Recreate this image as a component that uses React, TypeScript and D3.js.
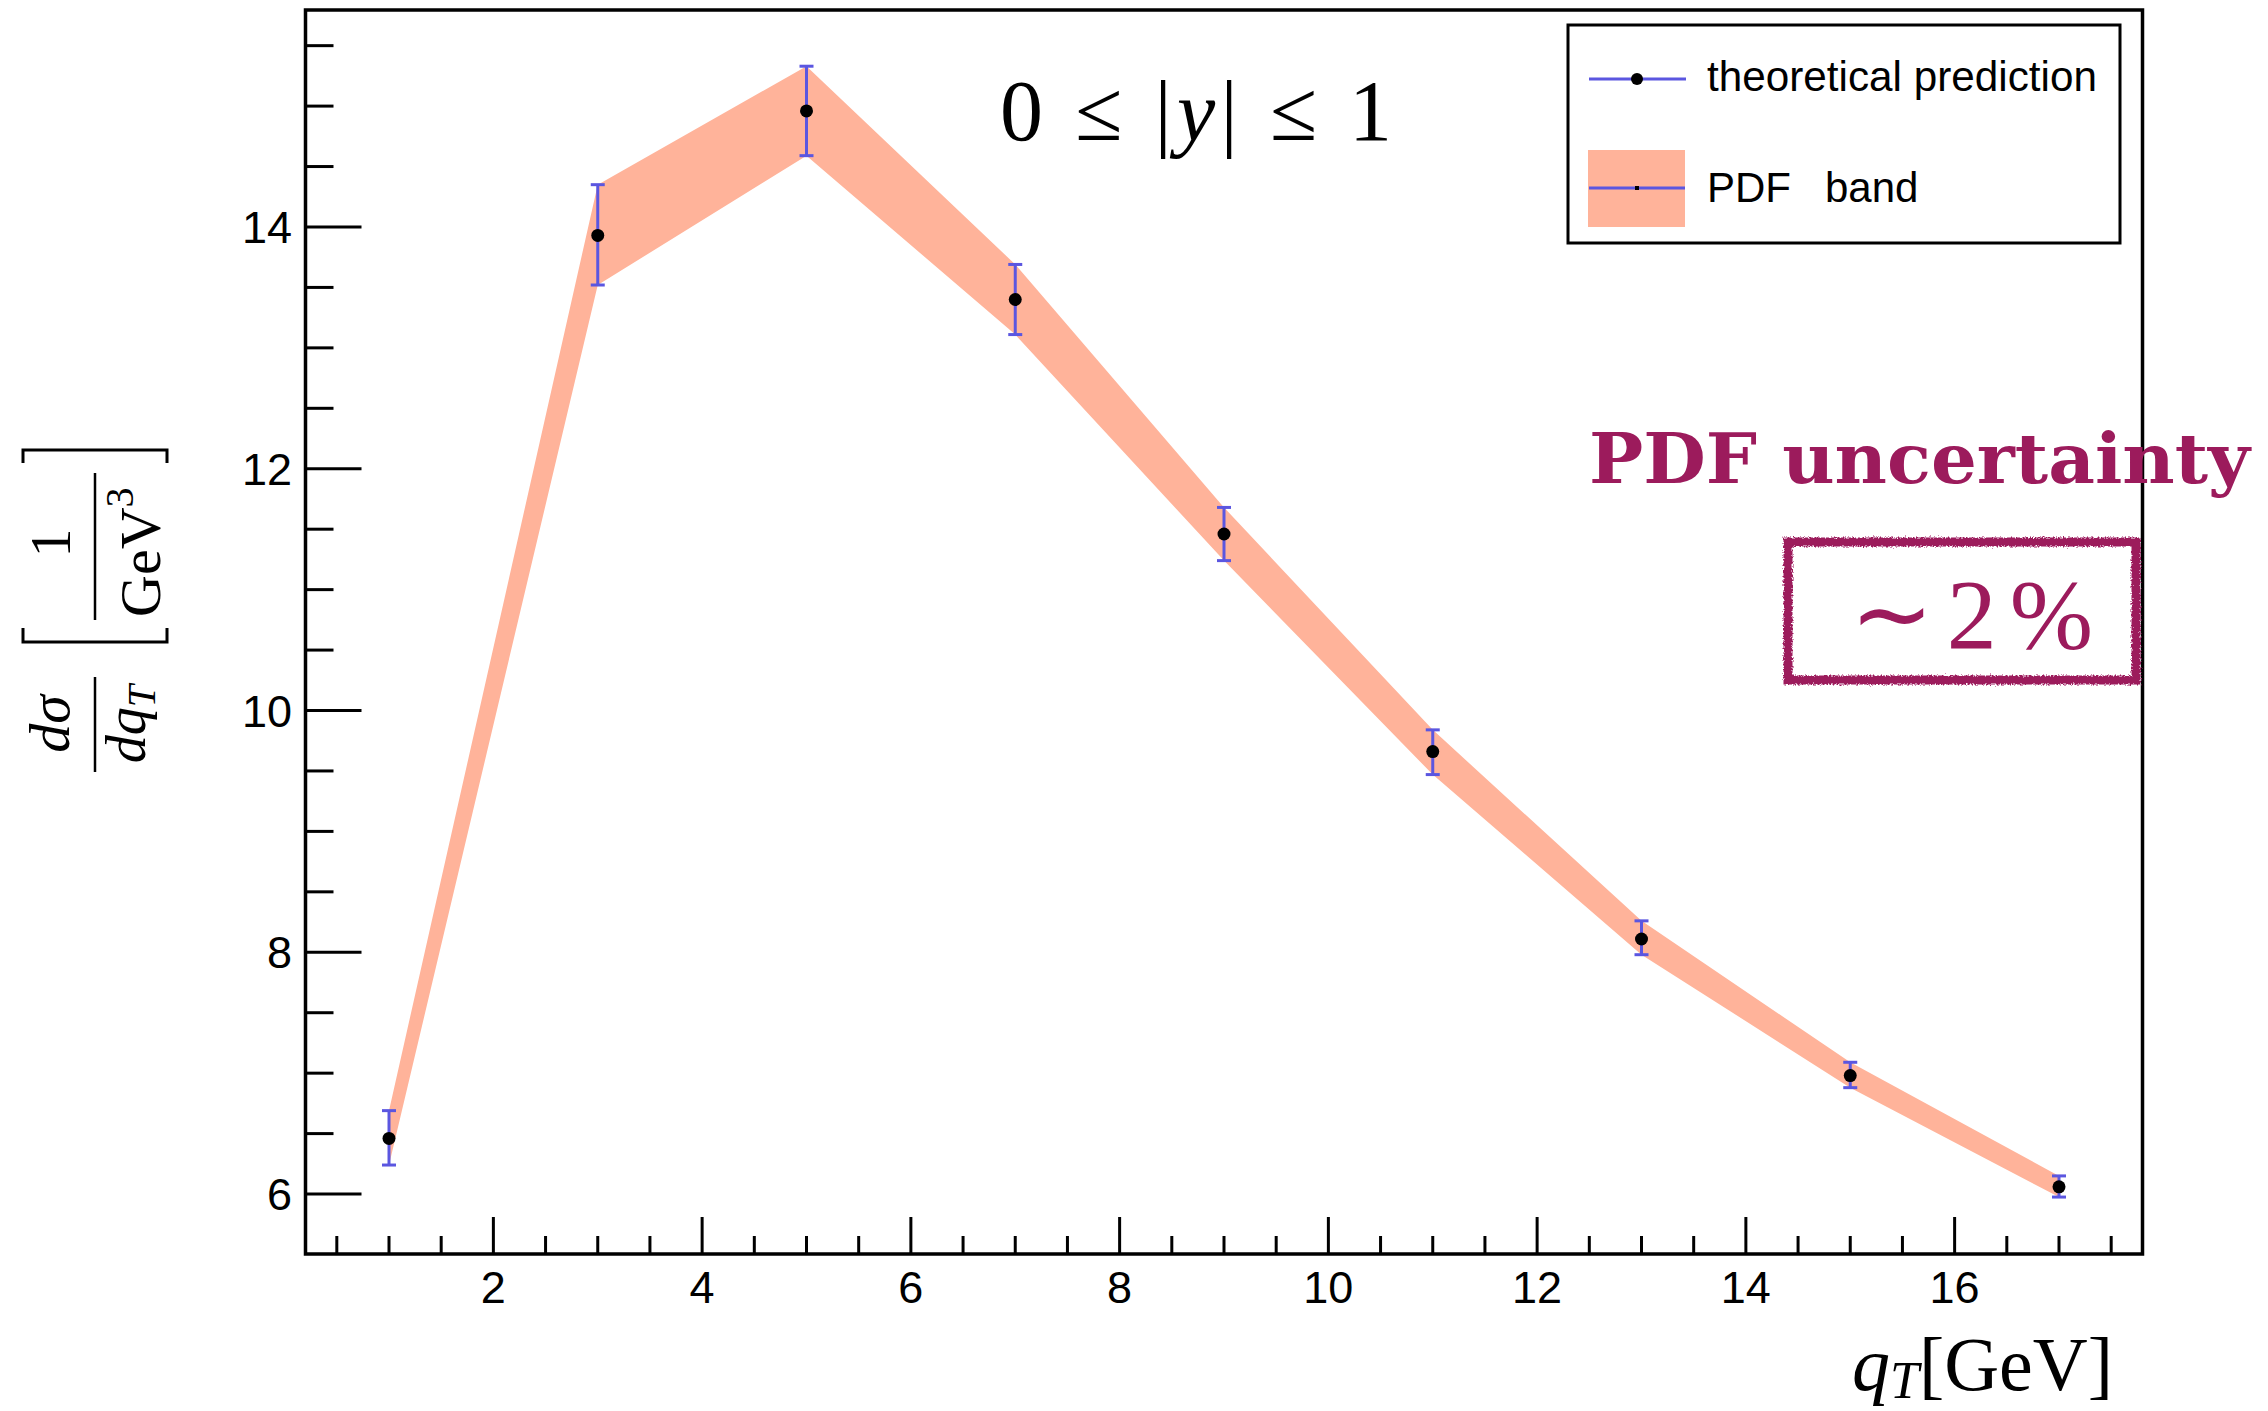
import React from "react";
import * as d3 from "d3";

// ---- data ----
const qT = [1, 3, 5, 7, 9, 11, 13, 15, 17];
const central = [6.46, 13.93, 14.96, 13.4, 11.46, 9.66, 8.11, 6.98, 6.06];
const upper = [6.69, 14.35, 15.33, 13.69, 11.68, 9.84, 8.26, 7.09, 6.15];
const lower = [6.24, 13.52, 14.59, 13.11, 11.24, 9.47, 7.98, 6.88, 5.975];
const xMajorTicks = [2, 4, 6, 8, 10, 12, 14, 16];
const yMajorTicks = [6, 8, 10, 12, 14];
const xDomain = [0.2, 17.8];
const yDomain = [5.504, 15.795];

const W = 2268;
const H = 1411;
const frame = { left: 305.5, right: 2142.5, top: 10, bottom: 1254 };

const BAND = "#ffb39a";
const BLUE = "#5b56e0";
const MAG = "#9c1b5c";

export default function App() {
  const x = d3.scaleLinear().domain(xDomain).range([frame.left, frame.right]);
  const y = d3.scaleLinear().domain(yDomain).range([frame.bottom, frame.top]);

  const xMinor = d3.range(0.5, 17.8, 0.5).filter((v) => !xMajorTicks.includes(v));
  const yMinor = d3.range(6, 15.8, 0.5).filter((v) => !yMajorTicks.includes(v));

  const bandArea = d3
    .area<number>()
    .x((_, i) => x(qT[i]))
    .y0((_, i) => y(lower[i]))
    .y1((_, i) => y(upper[i]));

  const tickFont = "'Liberation Sans', Arial, Helvetica, sans-serif";
  const serif = "'Liberation Serif', 'Times New Roman', serif";

  return (
    <svg
      width={W}
      height={H}
      style={{ position: "absolute", left: 0, top: 0, background: "#fff" }}
    >
      <defs>
        <filter id="rough" x="-5%" y="-10%" width="110%" height="120%">
          <feTurbulence type="fractalNoise" baseFrequency="0.6" numOctaves="2" seed="3" result="n" />
          <feDisplacementMap in="SourceGraphic" in2="n" scale="5" />
        </filter>
      </defs>
      <rect x={0} y={0} width={W} height={H} fill="#fff" />

      {/* band */}
      <path d={bandArea(qT) || ""} fill={BAND} />

      {/* error bars */}
      {qT.map((q, i) => (
        <g key={"e" + i} stroke={BLUE} strokeWidth={3}>
          <line x1={x(q)} x2={x(q)} y1={y(upper[i])} y2={y(lower[i])} />
          <line x1={x(q) - 7} x2={x(q) + 7} y1={y(upper[i])} y2={y(upper[i])} />
          <line x1={x(q) - 7} x2={x(q) + 7} y1={y(lower[i])} y2={y(lower[i])} />
        </g>
      ))}
      {/* points */}
      {qT.map((q, i) => (
        <circle key={"p" + i} cx={x(q)} cy={y(central[i])} r={6.5} fill="#000" />
      ))}

      {/* frame */}
      <rect
        x={frame.left}
        y={frame.top}
        width={frame.right - frame.left}
        height={frame.bottom - frame.top}
        fill="none"
        stroke="#000"
        strokeWidth={3.5}
      />

      {/* x ticks */}
      {xMajorTicks.map((v) => (
        <g key={"xm" + v}>
          <line x1={x(v)} x2={x(v)} y1={frame.bottom} y2={frame.bottom - 37} stroke="#000" strokeWidth={3} />
          <text x={x(v)} y={1303} textAnchor="middle" fontFamily={tickFont} fontSize={45}>
            {v}
          </text>
        </g>
      ))}
      {xMinor.map((v) => (
        <line key={"xn" + v} x1={x(v)} x2={x(v)} y1={frame.bottom} y2={frame.bottom - 18} stroke="#000" strokeWidth={3} />
      ))}

      {/* y ticks */}
      {yMajorTicks.map((v) => (
        <g key={"ym" + v}>
          <line x1={frame.left} x2={frame.left + 56} y1={y(v)} y2={y(v)} stroke="#000" strokeWidth={3} />
          <text x={292} y={y(v) + 16} textAnchor="end" fontFamily={tickFont} fontSize={45}>
            {v}
          </text>
        </g>
      ))}
      {yMinor.map((v) => (
        <line key={"yn" + v} x1={frame.left} x2={frame.left + 28} y1={y(v)} y2={y(v)} stroke="#000" strokeWidth={3} />
      ))}

      {/* header */}
      <text x={1000} y={140} fontFamily={serif} fontSize={86} textLength={392} lengthAdjust="spacing">
        <tspan>0 ≤ |</tspan>
        <tspan fontStyle="italic">y</tspan>
        <tspan>| ≤ 1</tspan>
      </text>

      {/* legend */}
      <rect x={1568} y={25} width={552} height={218} fill="#fff" stroke="#000" strokeWidth={3} />
      <line x1={1589} x2={1686} y1={79} y2={79} stroke={BLUE} strokeWidth={3} />
      <circle cx={1637} cy={79} r={6} fill="#000" />
      <text x={1707} y={91} fontFamily={tickFont} fontSize={42} textLength={390} lengthAdjust="spacingAndGlyphs">
        theoretical prediction
      </text>
      <rect x={1588} y={150} width={97} height={77} fill={BAND} />
      <line x1={1589} x2={1685} y1={188} y2={188} stroke={BLUE} strokeWidth={3} />
      <rect x={1635} y={186} width={4} height={4} fill="#000" />
      <text x={1707} y={202} fontFamily={tickFont} fontSize={42}>
        PDF
      </text>
      <text x={1825} y={202} fontFamily={tickFont} fontSize={42}>
        band
      </text>

      {/* annotation */}
      <text
        x={1589}
        y={483}
        fontFamily="'DejaVu Serif', serif"
        fontWeight="bold"
        fontSize={70}
        fill={MAG}
        textLength={661}
        lengthAdjust="spacingAndGlyphs"
      >
        PDF uncertainty
      </text>
      <rect
        x={1788}
        y={542}
        width={348}
        height={138}
        fill="none"
        stroke={MAG}
        strokeWidth={9}
        filter="url(#rough)"
      />
      <text x={1850} y={648} fontFamily={serif} fontSize={100} fill={MAG} textLength={243} lengthAdjust="spacing">
        ∼ 2 %
      </text>

      {/* y axis title */}
      <g transform="translate(95,620) rotate(-90)" fontFamily={serif} fill="#000">
        <line x1={-152} x2={-57} y1={0} y2={0} stroke="#000" strokeWidth={2.5} />
        <text x={-104} y={-26} textAnchor="middle" fontSize={58} fontStyle="italic">
          dσ
        </text>
        <text x={-104} y={50} textAnchor="middle" fontSize={56} fontStyle="italic">
          dq<tspan fontSize={40} dy={10}>T</tspan>
        </text>
        <path d="M -8 -72 L -22 -72 L -22 72 L -8 72" fill="none" stroke="#000" strokeWidth={3} />
        <path d="M 157 -72 L 170 -72 L 170 72 L 157 72" fill="none" stroke="#000" strokeWidth={3} />
        <line x1={0} x2={147} y1={0} y2={0} stroke="#000" strokeWidth={2.5} />
        <text x={77} y={-25} textAnchor="middle" fontSize={58}>
          1
        </text>
        <text x={3} y={65} fontSize={58}>
          GeV<tspan fontSize={40} dy={-27}>3</tspan>
        </text>
      </g>

      {/* x axis title */}
      <text x={1852} y={1390} fontFamily={serif} fontSize={76} fontStyle="italic">
        q<tspan fontSize={52} dy={8}>T</tspan>
      </text>
      <text x={2113} y={1390} fontFamily={serif} fontSize={76} textAnchor="end">
        [GeV]
      </text>
    </svg>
  );
}
